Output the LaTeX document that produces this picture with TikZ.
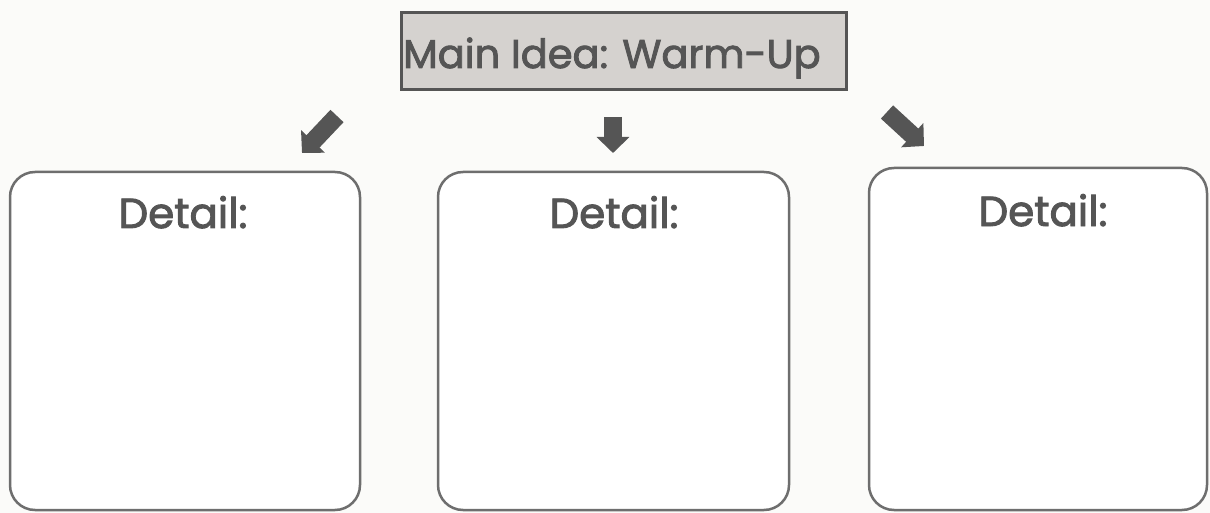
\documentclass[tikz,border=0pt]{standalone}
\usepackage{fontspec}
\setmainfont{Poppins}
\newfontfamily\labelfont{Poppins}[FakeBold=2.2]
\usetikzlibrary{arrows.meta}
\definecolor{ink}{HTML}{555555}
\definecolor{boxline}{HTML}{6E6E6E}
\definecolor{mainfill}{HTML}{D5D2CF}
\definecolor{paper}{HTML}{FBFBF9}
\tikzset{
  mainbox/.style={draw=ink, line width=3pt, fill=mainfill},
  detailbox/.style={draw=boxline, line width=2.5pt, rounded corners=25pt, fill=white},
  blockarrow/.style={draw=ink, line width=18pt, -{Triangle[length=16pt,width=32pt]}},
  maintext/.style={text=ink, font=\labelfont\fontsize{40}{46}\selectfont, inner sep=0pt, anchor=base},
  detailtext/.style={text=ink, font=\labelfont\fontsize{42}{46}\selectfont, inner sep=0pt, anchor=base},
}
\begin{document}
\begin{tikzpicture}[x=1pt,y=-1pt]
\fill[paper] (0,0) rectangle (1210,513);
\useasboundingbox (0,0) rectangle (1210,513);
% main box
\draw[mainbox] (401,13) rectangle (846,90);
\node[maintext] (main) at (612,68) {Main Idea: Warm-Up};
% detail boxes
\draw[detailbox] (10,172) rectangle (360,510);
\draw[detailbox] (438,172) rectangle (789,510);
\draw[detailbox] (869,168) rectangle (1207,510);
\node[detailtext] (d1) at (183,228) {Detail:};
\node[detailtext] (d2) at (614,228) {Detail:};
\node[detailtext] (d3) at (1043,226) {Detail:};
% arrows
\coordinate (a1s) at (337,116);
\coordinate (a1e) at (302,153);
\coordinate (a2s) at (613,117);
\coordinate (a2e) at (613,153);
\coordinate (a3s) at (887,112);
\coordinate (a3e) at (924,146);
\draw[blockarrow] (a1s) -- (a1e);
\draw[blockarrow] (a2s) -- (a2e);
\draw[blockarrow] (a3s) -- (a3e);
\end{tikzpicture}
\end{document}
